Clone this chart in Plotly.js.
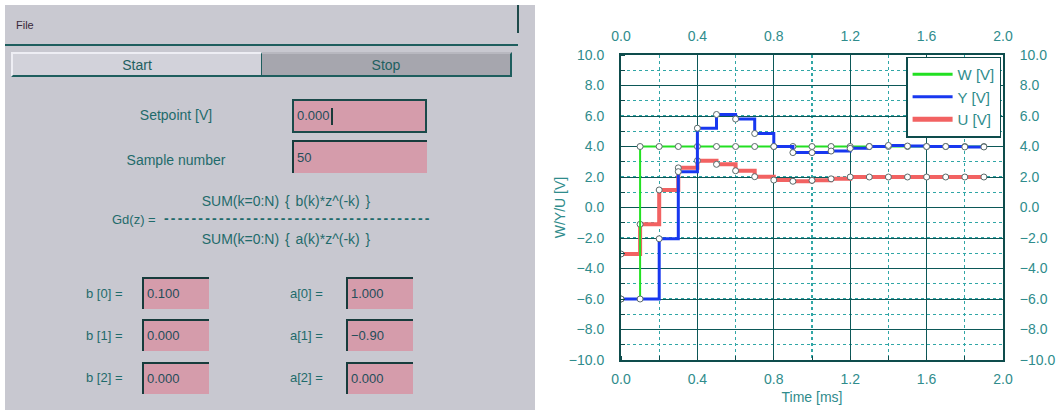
<!DOCTYPE html>
<html>
<head>
<meta charset="utf-8">
<script src="https://cdn.plot.ly/plotly-3.0.1.min.js"></script>
<style>
  html, body { margin:0; padding:0; background:#ffffff; width:1061px; height:410px; overflow:hidden; }
  #chart { position:absolute; left:0; top:0; width:1061px; height:410px; }
  #panel { position:absolute; left:5px; top:5px; width:530px; height:405px; background:#c8c8d0; z-index:5;
           font-family:"Liberation Sans", Arial, sans-serif; font-size:13px; color:#1f6b6b; }
  .abs { position:absolute; white-space:pre; }
  .menubar { left:0; top:0; width:513px; height:39px; background:#c9c9d1; border-bottom:2px solid #1e5e5e; }
  .btn { top:47px; height:25px; line-height:23px; text-align:center; font-size:14px; color:#1f6060; box-sizing:border-box; }
  .start { left:6px; width:251px; background:#d2d2da; border-top:2px solid #eeeef4; border-left:2px solid #eeeef4; border-bottom:2px solid #1e5e5e; border-right:1px solid #1e5e5e; }
  .stop { left:257px; width:250px; background:#a6a6ae; border-top:2px solid #b8b8c0; border-bottom:2px solid #1e5e5e; border-right:2px solid #1e5e5e; }
  .box { background:#d59cab; box-sizing:border-box; border-top:2px solid #173c3c; border-left:2px solid #173c3c; padding-left:3px; color:#244e5a; font-size:13px; }
  .focus { border:2px solid #1a4a4a; }
  .lbl { text-align:center; }
</style>
</head>
<body>
<div id="chart"></div>
<div id="panel">
  <div class="abs menubar"></div>
  <div class="abs" style="left:512px;top:0px;width:2px;height:28px;background:#1e4a4a;"></div>
  <div class="abs" style="left:11px;top:14px;font-size:11px;color:#3a2a3a;">File</div>
  <div class="abs btn start">Start</div>
  <div class="abs btn stop">Stop</div>

  <div class="abs lbl" style="left:101px;top:102px;width:140px;font-size:14px;">Setpoint [V]</div>
  <div class="abs box focus" style="left:287px;top:94px;width:135px;height:34px;line-height:30px;">0.000<span style="display:inline-block;width:2px;height:17px;background:#1a3a3a;vertical-align:middle;margin-left:1px;"></span></div>
  <div class="abs lbl" style="left:101px;top:147px;width:140px;font-size:14px;">Sample number</div>
  <div class="abs box" style="left:287px;top:135px;width:135px;height:33px;line-height:31px;">50</div>

  <div class="abs lbl" style="left:161px;top:188px;width:240px;font-size:14px;word-spacing:2px;">SUM(k=0:N) { b(k)*z^(-k) }</div>
  <div class="abs" style="left:107px;top:207px;font-size:13px;">Gd(z) = </div>
  <div class="abs" style="left:159px;top:205px;font-size:14px;letter-spacing:2.2px;font-weight:bold;">---------------------------------------</div>
  <div class="abs lbl" style="left:161px;top:226px;width:240px;font-size:14px;word-spacing:2px;">SUM(k=0:N) { a(k)*z^(-k) }</div>

  <div class="abs" style="left:81px;top:281px;">b [0] =</div>
  <div class="abs box" style="left:137px;top:272px;width:67px;height:32px;line-height:30px;">0.100</div>
  <div class="abs" style="left:81px;top:323px;">b [1] =</div>
  <div class="abs box" style="left:137px;top:314px;width:67px;height:32px;line-height:30px;">0.000</div>
  <div class="abs" style="left:81px;top:365px;">b [2] =</div>
  <div class="abs box" style="left:137px;top:357px;width:67px;height:32px;line-height:30px;">0.000</div>

  <div class="abs" style="left:285px;top:281px;">a[0] =</div>
  <div class="abs box" style="left:341px;top:272px;width:67px;height:32px;line-height:30px;">1.000</div>
  <div class="abs" style="left:285px;top:323px;">a[1] =</div>
  <div class="abs box" style="left:341px;top:314px;width:67px;height:32px;line-height:30px;">−0.90</div>
  <div class="abs" style="left:285px;top:365px;">a[2] =</div>
  <div class="abs box" style="left:341px;top:357px;width:67px;height:32px;line-height:30px;">0.000</div>
</div>
<script>
// Sample times [ms]
var time = [0.0, 0.1, 0.2, 0.3, 0.4, 0.5, 0.6, 0.7, 0.8, 0.9, 1.0, 1.1, 1.2, 1.3, 1.4, 1.5, 1.6, 1.7, 1.8, 1.9];
// Setpoint W [V]
var wValues = [-6.0, 4.0, 4.0, 4.0, 4.0, 4.0, 4.0, 4.0, 4.0, 4.0, 4.0, 4.0, 4.0, 4.0, 4.0, 4.0, 4.0, 4.0, 4.0, 4.0];
// Output Y [V]
var yValues = [-6.0, -6.0, -2.05, 2.35, 5.2, 6.1, 5.8, 4.85, 4.0, 3.6, 3.6, 3.7, 3.88, 4.0, 4.07, 4.03, 4.0, 4.0, 3.97, 3.97];
// Control U [V]
var uValues = [-3.05, -1.1, 1.15, 2.6, 3.07, 2.83, 2.41, 2.02, 1.8, 1.72, 1.78, 1.88, 2.0, 2.0, 2.0, 2.0, 2.0, 2.0, 2.0, 2.0];
var seriesNames = ['W [V]', 'Y [V]', 'U [V]'];
var seriesColors = ['#22e022', '#1838f0', '#f26262'];
var xTicks = [0.0, 0.4, 0.8, 1.2, 1.6, 2.0];
var yTicks = [-10, -8, -6, -4, -2, 0, 2, 4, 6, 8, 10];

var teal = '#2f8c8c';
var font = {family: '"Liberation Sans", Arial, sans-serif', size: 14, color: teal};
var legendFont = {family: '"Liberation Sans", Arial, sans-serif', size: 15, color: teal};
var marker = {symbol: 'circle', size: 6, color: '#ffffff', line: {color: '#5a6a6a', width: 1}};

var traces = [
  {x: time, y: uValues, name: seriesNames[2], type: 'scatter', mode: 'lines+markers', line: {shape: 'hv', color: seriesColors[2], width: 4}, marker: marker, showlegend: false},
  {x: time, y: wValues, name: seriesNames[0], type: 'scatter', mode: 'lines+markers', line: {shape: 'hv', color: seriesColors[0], width: 2}, marker: marker, showlegend: false},
  {x: time, y: yValues, name: seriesNames[1], type: 'scatter', mode: 'lines+markers', line: {shape: 'hv', color: seriesColors[1], width: 3}, marker: marker, showlegend: false},
  // legend entries (line only, no marker)
  {x: [null], y: [null], name: seriesNames[0], type: 'scatter', mode: 'lines', line: {color: seriesColors[0], width: 3}, legendrank: 1},
  {x: [null], y: [null], name: seriesNames[1], type: 'scatter', mode: 'lines', line: {color: seriesColors[1], width: 3}, legendrank: 2},
  {x: [null], y: [null], name: seriesNames[2], type: 'scatter', mode: 'lines', line: {color: seriesColors[2], width: 5}, legendrank: 3},
  {x: [0, 2], y: [-10, 10], xaxis: 'x2', yaxis: 'y2', mode: 'markers', marker: {opacity: 0}, showlegend: false, hoverinfo: 'skip'}
];

function axisBase(ticks) {
  return {
    tickmode: 'array', tickvals: ticks, tickformat: '.1f',
    ticks: '', tickfont: font, zeroline: false,
    showline: true, linecolor: '#0e4c4c', linewidth: 2, mirror: true
  };
}

var xa = Object.assign(axisBase(xTicks), {
  range: [0, 2], showgrid: true, gridcolor: '#0c5858', gridwidth: 1,
  minor: {dtick: 0.2, tick0: 0, showgrid: true, gridcolor: '#30a6a6', griddash: '3px,3px', gridwidth: 1.4, ticks: 'inside', ticklen: 4, tickcolor: '#0e4c4c'},
  ticklabelstandoff: 5,
  title: {text: 'Time [ms]', font: font, standoff: 6}
});
var xa2 = Object.assign(axisBase(xTicks), {
  range: [0, 2], overlaying: 'x', side: 'top', showgrid: false, ticklabelstandoff: 6
});
var ya = Object.assign(axisBase(yTicks), {
  range: [-10, 10], showgrid: true, gridcolor: '#0c5858', gridwidth: 1,
  minor: {dtick: 1, tick0: 0, showgrid: true, gridcolor: '#30a6a6', griddash: '3px,3px', gridwidth: 1.4, ticks: 'inside', ticklen: 4, tickcolor: '#0e4c4c'},
  ticklabelstandoff: 12,
  title: {text: 'W/Y/U [V]', font: font, standoff: 0}
});
var ya2 = Object.assign(axisBase(yTicks), {
  range: [-10, 10], overlaying: 'y', side: 'right', showgrid: false, ticklabelstandoff: 12
});

var layout = {
  width: 1061, height: 410,
  margin: {l: 621, r: 58, t: 55, b: 50, pad: 0},
  paper_bgcolor: '#ffffff', plot_bgcolor: '#ffffff',
  font: font,
  showlegend: true,
  legend: {x: 0.995, xanchor: 'right', y: 0.995, yanchor: 'top', bgcolor: '#ffffff', bordercolor: '#0e4c4c', borderwidth: 1.5,
           font: legendFont, itemwidth: 40, tracegroupgap: 0},
  xaxis: xa, xaxis2: xa2, yaxis: ya, yaxis2: ya2
};

Plotly.newPlot('chart', traces, layout, {displayModeBar: false, staticPlot: true});
</script>
</body>
</html>
